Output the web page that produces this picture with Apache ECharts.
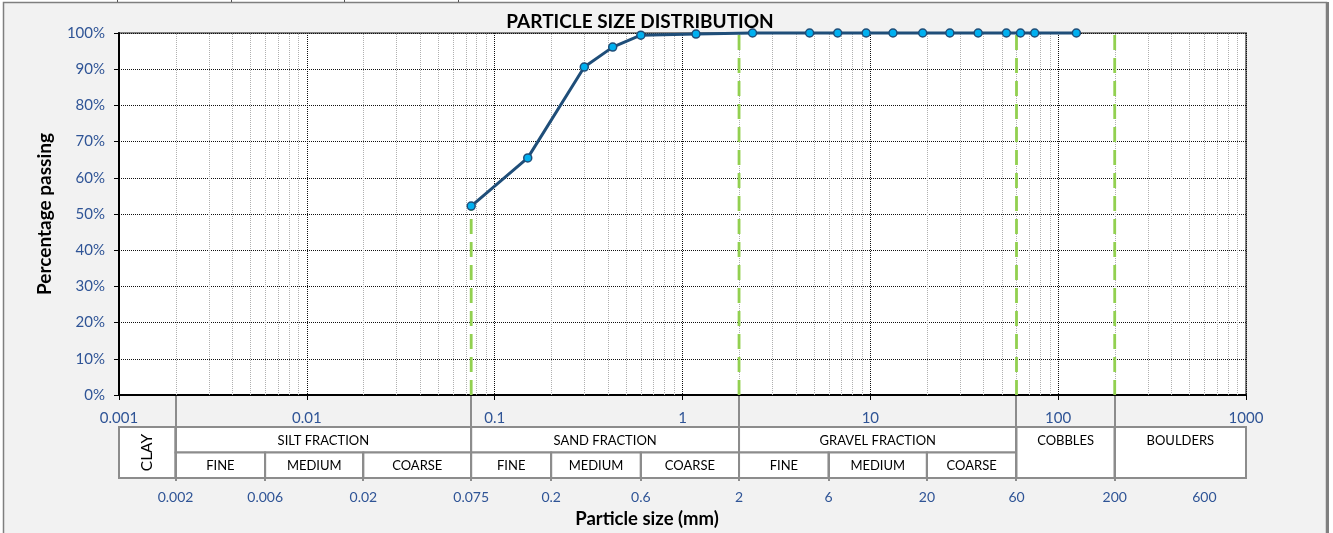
<!DOCTYPE html>
<html><head><meta charset="utf-8">
<script src="https://cdn.jsdelivr.net/npm/echarts@6/dist/echarts.min.js"></script>
<style>html,body{margin:0;padding:0;background:#fff}#c{width:1333px;height:533px}</style>
</head><body><div id="c"></div>
<script>
// ---- data ----
const sieveSizes = [0.075, 0.15, 0.3, 0.425, 0.6, 1.18, 2.36, 4.75, 6.7, 9.5, 13.2, 19, 26.5, 37.5, 53, 63, 75, 125];
const percentPassing = [52.2, 65.5, 90.6, 96.1, 99.4, 99.7, 100, 100, 100, 100, 100, 100, 100, 100, 100, 100, 100, 100];
const xTickLabels = ['0.001', '0.01', '0.1', '1', '10', '100', '1000'];
const decades = [0.001, 0.01, 0.1, 1, 10, 100];
const minorMultipliers = [2, 3, 4, 5, 6, 7, 8, 9];
// vertical classification limits drawn on the chart: [size, from %, to %]
const limitLines = [[0.075, 0, 52.2], [2, 0, 100], [60, 0, 100], [200, 0, 100]];
// table cells: [from size, to size, from row, to row, label]
const tableCells = [
  [0.001, 0.002, 0, 2, 'CLAY'],
  [0.002, 0.075, 0, 1, 'SILT FRACTION'],
  [0.002, 0.006, 1, 2, 'FINE'],
  [0.006, 0.02, 1, 2, 'MEDIUM'],
  [0.02, 0.075, 1, 2, 'COARSE'],
  [0.075, 2, 0, 1, 'SAND FRACTION'],
  [0.075, 0.2, 1, 2, 'FINE'],
  [0.2, 0.6, 1, 2, 'MEDIUM'],
  [0.6, 2, 1, 2, 'COARSE'],
  [2, 60, 0, 1, 'GRAVEL FRACTION'],
  [2, 6, 1, 2, 'FINE'],
  [6, 20, 1, 2, 'MEDIUM'],
  [20, 60, 1, 2, 'COARSE'],
  [60, 200, 0, 2, 'COBBLES'],
  [200, 1000, 0, 2, 'BOULDERS']
];
const rotatedCells = ['CLAY'];
const boundaryValues = [0.002, 0.006, 0.02, 0.075, 0.2, 0.6, 2, 6, 20, 60, 200, 600];
const boundaryLabels = ['0.002', '0.006', '0.02', '0.075', '0.2', '0.6', '2', '6', '20', '60', '200', '600'];

// ---- styling ----
const FONT = 'Lato, "Open Sans", sans-serif';
const BLUE_TXT = '#2f5496';
const GRID_GRAY = '#8c8c8c';

const minorData = [];
decades.forEach(d => minorMultipliers.forEach(m => minorData.push([d * m, 0])));

const chart = echarts.init(document.getElementById('c'), null, {renderer: 'canvas'});

function near(a, b) { return Math.abs(Math.log10(a) - Math.log10(b)) < 1e-6; }
function boundaryKind(v) {
  let top = false, bottom = false;
  tableCells.forEach(c => {
    if (near(c[0], v) || near(c[1], v)) {
      if (c[2] === 0) top = true; else bottom = true;
    }
  });
  return top ? 'long' : (bottom ? 'short' : 'none');
}

const option = {
  backgroundColor: '#ffffff',
  animation: false,
  graphic: [
    {type: 'rect', z: -1, shape: {x: 3.5, y: 2.5, width: 1323, height: 540},
     style: {fill: '#f2f2f2', stroke: '#7f7f7f', lineWidth: 1.5}},
    {type: 'line', z: -1, shape: {x1: 1327.5, y1: 2, x2: 1327.5, y2: 533}, style: {stroke: '#7f7f7f', lineWidth: 3}},
    {type: 'line', z: -1, shape: {x1: 117.5, y1: 0, x2: 117.5, y2: 2}, style: {stroke: '#555', lineWidth: 1}},
    {type: 'line', z: -1, shape: {x1: 231.5, y1: 0, x2: 231.5, y2: 2}, style: {stroke: '#555', lineWidth: 1}},
    {type: 'line', z: -1, shape: {x1: 344.5, y1: 0, x2: 344.5, y2: 2}, style: {stroke: '#555', lineWidth: 1}},
    {type: 'line', z: -1, shape: {x1: 458.5, y1: 0, x2: 458.5, y2: 2}, style: {stroke: '#555', lineWidth: 1}},
    {type: 'text', z: 10, x: 640, y: 22,
     style: {text: 'PARTICLE SIZE DISTRIBUTION', align: 'center', verticalAlign: 'middle',
             fontFamily: FONT, fontWeight: 'bold', fontSize: 19, fill: '#000'}},
    {type: 'text', z: 10, x: 647, y: 519,
     style: {text: 'Particle size (mm)', align: 'center', verticalAlign: 'middle',
             fontFamily: FONT, fontWeight: 'bold', fontSize: 18.5, fill: '#000'}}
  ],
  grid: [
    {left: 119, top: 33, width: 1127, height: 362, show: true, backgroundColor: '#ffffff',
     borderColor: '#808080', borderWidth: 2},
    {left: 119, top: 427, width: 1127, height: 51, show: false}
  ],
  xAxis: [
    {type: 'log', gridIndex: 0, logBase: 10, min: 0.001, max: 1000, splitNumber: 6,
     axisLine: {show: true, onZero: false, lineStyle: {color: '#000', width: 2}},
     axisTick: {show: true, length: 5, lineStyle: {color: '#000', width: 1}},
     axisLabel: {color: BLUE_TXT, fontFamily: FONT, fontSize: 15, margin: 16,
                 formatter: v => xTickLabels[Math.round(Math.log10(v)) + 3]},
     splitLine: {show: true, lineStyle: {color: '#111', width: 1, type: [1, 1]}}},
    {type: 'log', gridIndex: 1, logBase: 10, min: 0.001, max: 1000, show: false}
  ],
  yAxis: [
    {type: 'value', gridIndex: 0, min: 0, max: 100, interval: 10,
     name: 'Percentage passing', nameLocation: 'middle', nameGap: 65, nameRotate: 90,
     nameTextStyle: {fontFamily: FONT, fontWeight: 'bold', fontSize: 19, color: '#000'},
     axisLine: {show: true, lineStyle: {color: '#000', width: 2}},
     axisTick: {show: true, length: 5, lineStyle: {color: '#000', width: 1}},
     axisLabel: {color: BLUE_TXT, fontFamily: FONT, fontSize: 15, margin: 14, formatter: '{value}%'},
     splitLine: {show: true, lineStyle: {color: '#111', width: 1, type: [1, 1]}}},
    {type: 'value', gridIndex: 1, min: 0, max: 2, inverse: true, show: false}
  ],
  series: [
    {
      name: 'minor', type: 'custom', xAxisIndex: 0, yAxisIndex: 0, z: 1, silent: true,
      data: minorData,
      renderItem: (params, api) => {
        const x = api.value(0);
        const p0 = api.coord([x, 0]), p1 = api.coord([x, 100]);
        const px = Math.round(p0[0]) + 0.5;
        return {type: 'line', shape: {x1: px, y1: p0[1], x2: px, y2: p1[1]},
                style: {stroke: '#b0b0b0', lineWidth: 1, lineDash: [1, 1]}};
      }
    },
    {
      name: 'limits', type: 'custom', xAxisIndex: 0, yAxisIndex: 0, z: 3, silent: true,
      data: limitLines,
      renderItem: (params, api) => {
        const x = api.value(0);
        const p0 = api.coord([x, api.value(1)]), p1 = api.coord([x, api.value(2)]);
        return {type: 'line', shape: {x1: p0[0], y1: p0[1], x2: p1[0], y2: p1[1]},
                style: {stroke: '#92d050', lineWidth: 2.8, lineDash: [15, 8]}};
      }
    },
    {
      name: 'Percentage passing', type: 'line', xAxisIndex: 0, yAxisIndex: 0, z: 5,
      data: sieveSizes.map((s, i) => [s, percentPassing[i]]),
      lineStyle: {color: '#1f4e79', width: 3},
      symbol: 'circle', symbolSize: 8,
      itemStyle: {color: '#00b0f0', borderColor: '#1f4e79', borderWidth: 1.5},
      clip: false
    },
    {
      name: 'table', type: 'custom', xAxisIndex: 1, yAxisIndex: 1, z: 4, silent: true, clip: false,
      data: tableCells.map(c => [c[0], c[2]]),
      renderItem: (params, api) => {
        const c = tableCells[params.dataIndex];
        const p0 = api.coord([c[0], c[2]]), p1 = api.coord([c[1], c[3]]);
        const rot = rotatedCells.indexOf(c[4]) >= 0;
        const cx = (p0[0] + p1[0]) / 2;
        let cy;
        if (rot || c[3] - c[2] === 1) cy = (p0[1] + p1[1]) / 2;
        else cy = (p0[1] + api.coord([c[0], c[2] + 1])[1]) / 2;
        return {type: 'group', children: [
          {type: 'rect', shape: {x: p0[0], y: p0[1], width: p1[0] - p0[0], height: p1[1] - p0[1]},
           style: {fill: '#ffffff', stroke: GRID_GRAY, lineWidth: 2}},
          {type: 'text', x: cx, y: cy + (rot ? 0 : 1), rotation: rot ? Math.PI / 2 : 0,
           style: {text: c[4], align: 'center', verticalAlign: 'middle', fontFamily: FONT,
                   fontSize: rot ? 15.5 : 13, fill: '#000'}}
        ]};
      }
    },
    {
      name: 'bounds', type: 'custom', xAxisIndex: 1, yAxisIndex: 1, z: 5, silent: true, clip: false,
      data: boundaryValues.map(v => [v, 2]),
      renderItem: (params, api) => {
        const v = api.value(0);
        const kind = boundaryKind(v);
        const pb = api.coord([v, 2]);
        const pt = api.coord([v, kind === 'long' ? 0 : 1]);
        const x = Math.round(pb[0]);
        const children = [];
        if (kind !== 'none') {
          children.push({type: 'line', shape: {x1: x, y1: kind === 'long' ? pt[1] - 31 : pt[1], x2: x, y2: pb[1] + 3},
                         style: {stroke: GRID_GRAY, lineWidth: 2}});
        }
        children.push({type: 'text', x: pb[0], y: pb[1] + 19,
          style: {text: boundaryLabels[params.dataIndex], align: 'center', verticalAlign: 'middle',
                  fontFamily: FONT, fontSize: 14, fill: BLUE_TXT}});
        return {type: 'group', children};
      }
    }
  ]
};
chart.setOption(option);
</script>
</body></html>
